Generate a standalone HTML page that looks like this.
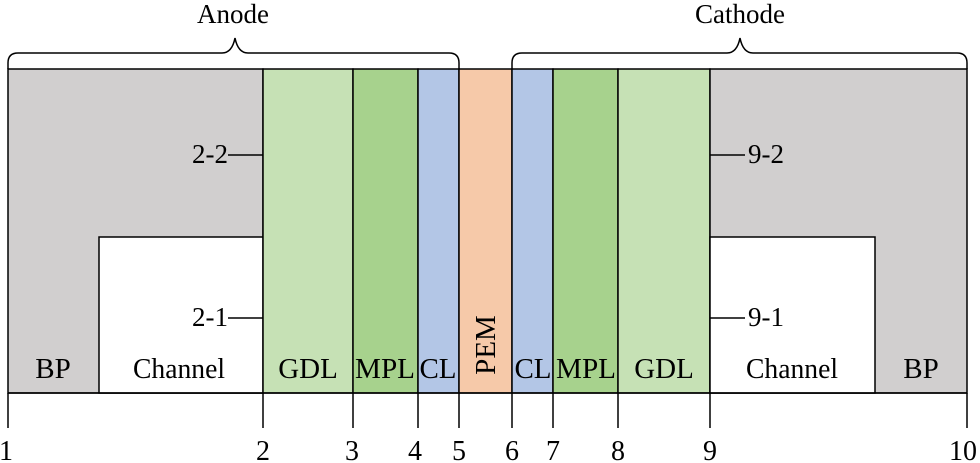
<!DOCTYPE html>
<html><head><style>body{margin:0;background:#fff}svg{display:block}</style></head><body>
<svg width="980" height="463" xmlns="http://www.w3.org/2000/svg" font-family="Liberation Serif, serif" fill="#000">
<g stroke="#000" stroke-width="1.5">
<rect x="8" y="69" width="255" height="324" fill="#d1cfcf"/>
<rect x="99" y="237" width="164" height="156" fill="#fff"/>
<rect x="263" y="69" width="90" height="324" fill="#c6e1b5"/>
<rect x="353" y="69" width="65" height="324" fill="#a7d28d"/>
<rect x="418" y="69" width="41" height="324" fill="#b3c6e6"/>
<rect x="459" y="69" width="53" height="324" fill="#f6c9a9"/>
<rect x="512" y="69" width="41" height="324" fill="#b3c6e6"/>
<rect x="553" y="69" width="65" height="324" fill="#a7d28d"/>
<rect x="618" y="69" width="92" height="324" fill="#c6e1b5"/>
<rect x="710" y="69" width="257" height="324" fill="#d1cfcf"/>
<rect x="710" y="237" width="165" height="156" fill="#fff"/>
<line x1="8" y1="393" x2="967" y2="393"/>
<path d="M8 393V428M263 393V428M353 393V428M418 393V428M459 393V428M512 393V428M553 393V428M618 393V428M710 393V428M967 393V428" fill="none"/>
<path d="M228 155H263M228 318H263M710 155H745M710 318H745" fill="none"/>
<path d="M8 69V63Q8 53 18 53H222Q232 53 235 38Q238 53 248 53H449Q459 53 459 63V69" fill="none"/>
<path d="M512 69V63Q512 53 522 53H727Q737 53 740 38Q743 53 753 53H957Q967 53 967 63V69" fill="none"/>
</g>
<g font-size="27" text-anchor="middle"><text x="233" y="23">Anode</text><text x="740" y="23">Cathode</text></g>
<g font-size="29" text-anchor="middle">
<text x="53" y="378">BP</text><text x="179" y="378" textLength="92" lengthAdjust="spacingAndGlyphs">Channel</text><text x="308" y="378">GDL</text>
<text x="385" y="378" textLength="60" lengthAdjust="spacingAndGlyphs">MPL</text><text x="438" y="378">CL</text>
<text x="533" y="378">CL</text><text x="586" y="378" textLength="60" lengthAdjust="spacingAndGlyphs">MPL</text><text x="664" y="378">GDL</text>
<text x="792" y="378" textLength="92" lengthAdjust="spacingAndGlyphs">Channel</text><text x="921" y="378">BP</text>
<text transform="translate(495,345) rotate(-90)">PEM</text>
</g>
<g font-size="27">
<text x="192" y="163">2-2</text><text x="192" y="326">2-1</text>
<text x="748" y="163">9-2</text><text x="748" y="326">9-1</text>
</g>
<g font-size="28" text-anchor="middle">
<text x="6" y="460">1</text><text x="263" y="460">2</text><text x="352" y="460">3</text><text x="415" y="460">4</text><text x="459" y="460">5</text><text x="512" y="460">6</text><text x="553" y="460">7</text><text x="618" y="460">8</text><text x="710" y="460">9</text><text x="963" y="460">10</text>
</g>
</svg>
</body></html>
